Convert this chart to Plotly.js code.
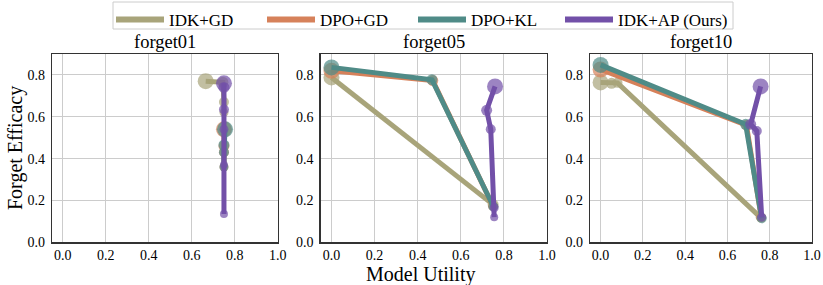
<!DOCTYPE html>
<html><head><meta charset="utf-8">
<script src="https://cdn.plot.ly/plotly-3.0.1.min.js"></script>
<style>html,body{margin:0;padding:0;background:#fff}#chart{width:823px;height:285px}</style>
</head><body><div id="chart"></div>
<script>
const methods = ["IDK+GD", "DPO+GD", "DPO+KL", "IDK+AP (Ours)"];
const panels = ["forget01", "forget05", "forget10"];
const xTicks = [0.0, 0.2, 0.4, 0.6, 0.8, 1.0];
const yTicks = [0.0, 0.2, 0.4, 0.6, 0.8];

// forget01
const idkgd_f01_x = [0.665, 0.745, 0.75, 0.75];
const idkgd_f01_y = [0.770, 0.765, 0.670, 0.620];
const dpogd_f01_x = [0.75, 0.75, 0.75, 0.75];
const dpogd_f01_y = [0.540, 0.460, 0.430, 0.360];
const dpokl_f01_x = [0.755, 0.75, 0.75, 0.75];
const dpokl_f01_y = [0.540, 0.465, 0.430, 0.360];
const idkap_f01_x = [0.75, 0.75, 0.75, 0.75, 0.75, 0.75];
const idkap_f01_y = [0.760, 0.740, 0.635, 0.540, 0.370, 0.135];
// forget05
const idkgd_f05_x = [0.0, 0.75];
const idkgd_f05_y = [0.788, 0.180];
const dpogd_f05_x = [0.0, 0.47, 0.75];
const dpogd_f05_y = [0.820, 0.773, 0.172];
const dpokl_f05_x = [0.0, 0.466, 0.751];
const dpokl_f05_y = [0.836, 0.777, 0.171];
const idkap_f05_x = [0.759, 0.72, 0.739, 0.755, 0.755];
const idkap_f05_y = [0.745, 0.631, 0.540, 0.165, 0.120];
// forget10
const idkgd_f10_x = [0.0, 0.052, 0.08, 0.755];
const idkgd_f10_y = [0.764, 0.760, 0.762, 0.120];
const dpogd_f10_x = [0.0, 0.69, 0.76];
const dpogd_f10_y = [0.826, 0.560, 0.118];
const dpokl_f10_x = [0.0, 0.686, 0.762];
const dpokl_f10_y = [0.848, 0.564, 0.115];
const idkap_f10_x = [0.757, 0.71, 0.739, 0.762];
const idkap_f10_y = [0.745, 0.564, 0.532, 0.120];

const colors = ["#A8A47A", "#D6815A", "#4F8B87", "#7250A8"];
const sizeSteps = [16, 11, 10, 9, 8, 8, 8];

const series = [
  [[idkgd_f01_x, idkgd_f01_y], [dpogd_f01_x, dpogd_f01_y], [dpokl_f01_x, dpokl_f01_y], [idkap_f01_x, idkap_f01_y]],
  [[idkgd_f05_x, idkgd_f05_y], [dpogd_f05_x, dpogd_f05_y], [dpokl_f05_x, dpokl_f05_y], [idkap_f05_x, idkap_f05_y]],
  [[idkgd_f10_x, idkgd_f10_y], [dpogd_f10_x, dpogd_f10_y], [dpokl_f10_x, dpokl_f10_y], [idkap_f10_x, idkap_f10_y]]
];

const traces = [];
series.forEach((panel, p) => {
  panel.forEach((xy, m) => {
    traces.push({
      type: "scatter", mode: "lines+markers",
      x: xy[0], y: xy[1],
      name: methods[m], showlegend: false,
      xaxis: p === 0 ? "x" : "x" + (p + 1),
      yaxis: p === 0 ? "y" : "y" + (p + 1),
      line: {color: colors[m], width: 5},
      marker: {color: colors[m], size: xy[0].map((_, i) => sizeSteps[i]), line: {width: 0}}
    });
  });
});
// legend entries: line swatches only (last entry in its own legend so it can be wider)
methods.forEach((name, m) => {
  traces.push({
    type: "scatter", mode: "lines", x: [null], y: [null],
    name: name, showlegend: true, legend: m === 3 ? "legend2" : "legend",
    line: {color: colors[m], width: 6}, hoverinfo: "skip"
  });
});

const W = 823, H = 285;
const xd = [[52, 277.7], [320.7, 547], [590, 812]];
const yd = [1 - 242.3 / H, 1 - 54 / H];
const font = "Liberation Serif, serif";
const legendCommon = {
  orientation: "h", y: 1 - 2 / H, yanchor: "top", xanchor: "left",
  font: {family: font, size: 17, color: "#000"},
  borderwidth: 0, bgcolor: "rgba(0,0,0,0)", itemwidth: 48
};

const layout = {
  width: W, height: H,
  margin: {l: 0, r: 0, t: 0, b: 0},
  paper_bgcolor: "#fff", plot_bgcolor: "#fff",
  font: {family: font, size: 14, color: "#000"},
  showlegend: true,
  legend: Object.assign({}, legendCommon, {x: 111 / W, entrywidth: 88}),
  legend2: Object.assign({}, legendCommon, {x: 560 / W}),
  shapes: [{
    type: "rect", xref: "paper", yref: "paper", layer: "below",
    x0: 113 / W, x1: 733 / W, y0: 1 - 29 / H, y1: 1 - 2 / H,
    line: {color: "#cccccc", width: 1}, fillcolor: "#fff"
  }],
  annotations: []
};

xd.forEach((d, i) => {
  const sx = i === 0 ? "" : String(i + 1);
  const axCommon = {
    showgrid: true, gridcolor: "#cccccc", gridwidth: 1,
    showline: true, linecolor: "#333", linewidth: 1.3, mirror: true,
    ticks: "", ticklabelstandoff: 0,
    zeroline: false, tickfont: {family: font, size: 14, color: "#000"}
  };
  layout["xaxis" + sx] = Object.assign({}, axCommon, {
    domain: [d[0] / W, d[1] / W], range: [-0.05, 1.0],
    tickvals: xTicks, ticktext: xTicks.map(v => v.toFixed(1)),
    anchor: "y" + sx
  });
  layout["yaxis" + sx] = Object.assign({}, axCommon, {
    domain: yd, range: [0, 0.9], ticklabelstandoff: 3,
    tickvals: yTicks, ticktext: yTicks.map(v => v.toFixed(1)),
    anchor: "x" + sx
  });
  layout.annotations.push({
    text: panels[i], xref: "paper", yref: "paper",
    x: (d[0] + d[1]) / 2 / W, y: 1 - 42 / H, xanchor: "center", yanchor: "middle",
    showarrow: false, font: {family: font, size: 18.5, color: "#000"}
  });
});

layout.annotations.push({
  text: "Forget Efficacy", xref: "paper", yref: "paper",
  x: 16 / W, y: 1 - 148 / H, xanchor: "center", yanchor: "middle", textangle: -90,
  showarrow: false, font: {family: font, size: 20, color: "#000"}
});
layout.annotations.push({
  text: "Model Utility", xref: "paper", yref: "paper",
  x: 420 / W, y: 1 - 274 / H, xanchor: "center", yanchor: "middle",
  showarrow: false, font: {family: font, size: 20, color: "#000"}
});

Plotly.newPlot("chart", traces, layout, {displayModeBar: false, staticPlot: true});
</script></body></html>
